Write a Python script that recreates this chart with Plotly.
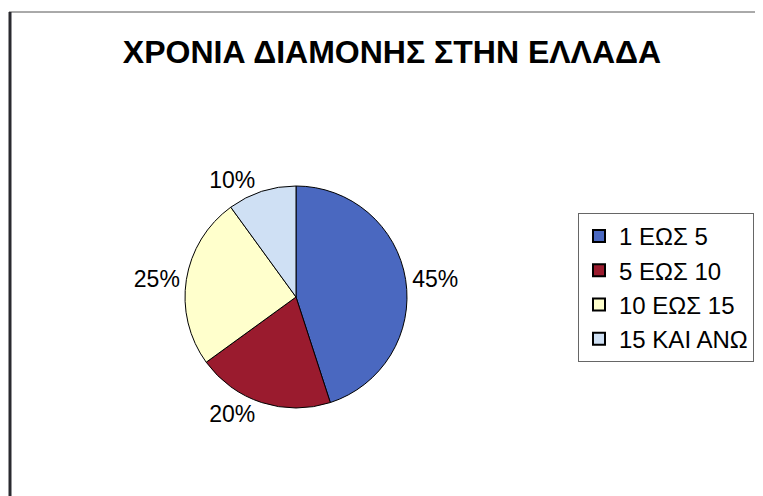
import plotly.graph_objects as go

# years of residence in Greece
categories = ["1 ΕΩΣ 5", "5 ΕΩΣ 10", "10 ΕΩΣ 15", "15 ΚΑΙ ΑΝΩ"]
shares = [45, 20, 25, 10]
colors = ["#4a68c0", "#9a1b2e", "#ffffcc", "#cfe0f4"]

W, H = 763, 496
OFF = 8  # page body margin shifts the figure by this much
FONT = "Liberation Sans, Arial"


def px_x(x):
    return (x - OFF) / W


def px_y(y):
    return 1 - (y - OFF) / H


# pie centre / radius in pixels, converted to a paper-space domain
cx, cy, r = 296, 297, 111
dom_x = [px_x(cx - r), px_x(cx + r)]
dom_y = [px_y(cy + r), px_y(cy - r)]

fig = go.Figure(go.Pie(
    labels=categories, values=shares,
    sort=False, direction="clockwise", rotation=0,
    marker=dict(colors=colors, line=dict(color="black", width=1)),
    textinfo="percent", textposition="outside",
    texttemplate="%{percent:.0%}",
    textfont=dict(family=FONT, size=23, color="black"),
    domain=dict(x=dom_x, y=dom_y),
    hoverinfo="label+percent",
))

fig.update_layout(
    width=W, height=H,
    margin=dict(l=0, r=0, t=0, b=0),
    paper_bgcolor="white",
    title=dict(text="<b>ΧΡΟΝΙΑ ΔΙΑΜΟΝΗΣ ΣΤΗΝ ΕΛΛΑΔΑ</b>", x=px_x(392), xanchor="center",
               y=px_y(52), yanchor="middle",
               font=dict(family=FONT, size=32, color="black")),
    legend=dict(x=px_x(578), y=px_y(213), xanchor="left", yanchor="top",
                bordercolor="#666666", borderwidth=1, bgcolor="white",
                font=dict(family=FONT, size=24, color="black"),
                itemsizing="constant"),
    shapes=[
        dict(type="line", xref="paper", yref="paper",
             x0=px_x(9), x1=1, y0=px_y(12), y1=px_y(12),
             line=dict(color="#555555", width=1)),
        dict(type="line", xref="paper", yref="paper",
             x0=px_x(10), x1=px_x(10), y0=0, y1=px_y(12),
             line=dict(color="#2a2a30", width=3)),
    ],
)

fig.write_html("out.html")
